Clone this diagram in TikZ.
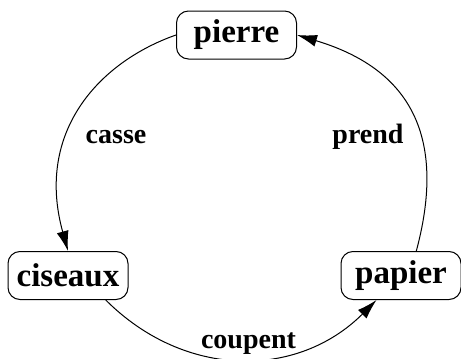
\documentclass[tikz,border=0pt]{standalone}
\usepackage{fontspec}
\setmainfont{Liberation Serif}
\usetikzlibrary{arrows.meta}
\begin{document}
\begin{tikzpicture}[x=1pt,y=-1pt,
  state/.style={draw, rounded corners=12pt, minimum width=120pt, minimum height=48pt, inner sep=0pt, line width=1pt, font=\fontsize{33}{38}\selectfont\bfseries},
  lbl/.style={font=\fontsize{28}{32}\selectfont\bfseries, anchor=base},
  conn/.style={line width=1pt, -{Latex[length=20pt,width=12pt]}}]
\path[use as bounding box] (0,0) rectangle (461,359);
\node[state] (pierre) at (236.5,35) {pierre};
\node[state] (ciseaux) at (68,275.5) {ciseaux};
\node[state] (papier) at (401,275.5) {papier};
\draw[conn] (pierre.west) .. controls +(-77,27) and +(-33,-119) .. (ciseaux.north);
\draw[conn] (ciseaux.-33) .. controls +(79,79) and +(-79,79) .. (papier.-135);
\draw[conn] (papier.58) .. controls +(34,-126.5) and +(102,30.5) .. (pierre.east);
\node[lbl] (casse) at (116,143) {casse};
\node[lbl] (prend) at (368,143) {prend};
\node[lbl] (coupent) at (248.5,348) {coupent};
\end{tikzpicture}
\end{document}
